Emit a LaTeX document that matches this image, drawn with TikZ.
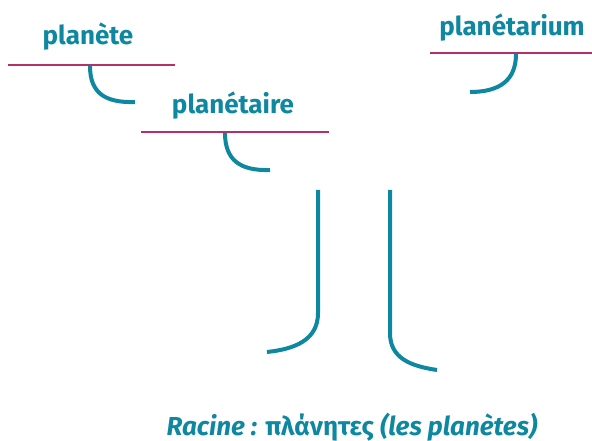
\documentclass[tikz,border=0pt]{standalone}
\usepackage{fontspec}
\setmainfont{Fira Sans}
\definecolor{bleu}{HTML}{0E87A0}
\definecolor{rose}{HTML}{B5306B}

\begin{document}
\begin{tikzpicture}[x=1pt, y=-1pt,
  mot/.style={font=\fontsize{26}{30}\selectfont\bfseries, text=bleu},
  trait/.style={rose, line width=2pt},
  crochet/.style={bleu, line width=4pt}]
  \useasboundingbox (0,0) rectangle (592,441);
  \node[mot] (planete) at (88,37) {planète};
  \node[mot] (planetaire) at (233,106) {planétaire};
  \node[mot] (planetarium) at (512,28) {planétarium};
  \node[mot] (racine) at (352,427) {\textit{Racine :} πλάνητες \textit{(les planètes)}};
  \draw[trait] (8,65) -- (175,65);
  \draw[trait] (141,132) -- (329,132);
  \draw[trait] (430,53) -- (592,53);
  \draw[crochet] (90,66) .. controls (90,93) and (105,103) .. (135,102);
  \draw[crochet] (225,133) .. controls (225,160) and (240,171) .. (270,170);
  \draw[crochet] (516,54) .. controls (516,80) and (500,92) .. (470,92);
  \draw[crochet] (318,190) -- (318,313) .. controls (318,340) and (295,349) .. (267,352);
  \draw[crochet] (390,190) -- (390,333) .. controls (390,358) and (410,366) .. (437,370);
\end{tikzpicture}
\end{document}
